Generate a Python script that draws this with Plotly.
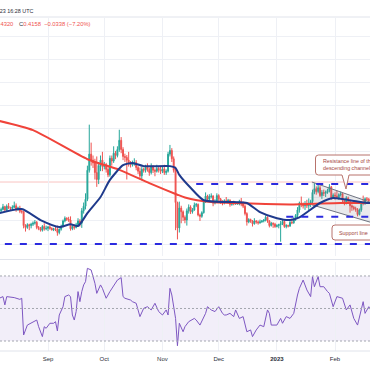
import plotly.graph_objects as go
import pandas as pd

# ---------------- data ----------------
dates = pd.date_range("2022-08-06", "2023-02-19", freq="D")
first_open = 0.370
closes = [
    0.372, 0.375, 0.381, 0.374, 0.382, 0.379, 0.377, 0.380, 0.383, 0.376, 0.378, 0.371, 0.370, 0.340, 0.336, 0.342, 0.340, 0.343, 0.345, 0.347, 0.336, 0.334, 0.330, 0.338, 0.333, 0.334,
    0.337, 0.334, 0.331, 0.333, 0.332, 0.325, 0.332, 0.338, 0.350, 0.356, 0.354, 0.352, 0.333, 0.338, 0.336, 0.342, 0.350, 0.345, 0.372, 0.382, 0.397, 0.460, 0.495, 0.482, 0.476, 0.455, 0.440, 0.470, 0.482, 0.468,
    0.472, 0.462, 0.450, 0.486, 0.480, 0.497, 0.492, 0.505, 0.525, 0.505, 0.490, 0.488, 0.482, 0.475, 0.472, 0.476, 0.477, 0.466, 0.458, 0.448, 0.462, 0.460, 0.468, 0.462, 0.455, 0.467, 0.460, 0.458, 0.464, 0.461, 0.458,
    0.463, 0.455, 0.458, 0.495, 0.503, 0.485, 0.460, 0.390, 0.335, 0.378, 0.370, 0.358, 0.352, 0.372, 0.380, 0.370, 0.374, 0.384, 0.386, 0.363, 0.360, 0.368, 0.392, 0.404, 0.397, 0.403, 0.404, 0.389, 0.392, 0.405,
    0.398, 0.392, 0.389, 0.394, 0.392, 0.395, 0.386, 0.390, 0.387, 0.388, 0.389, 0.393, 0.387, 0.382, 0.366, 0.348, 0.353, 0.350, 0.344, 0.350, 0.348, 0.346, 0.348, 0.350, 0.352, 0.358, 0.350, 0.340, 0.345, 0.343, 0.338,
    0.340, 0.342, 0.344, 0.349, 0.338, 0.340, 0.339, 0.347, 0.346, 0.355, 0.362, 0.374, 0.389, 0.385, 0.383, 0.388, 0.383, 0.386, 0.392, 0.412, 0.420, 0.414, 0.422, 0.405, 0.412, 0.410, 0.412, 0.416, 0.424, 0.401, 0.406,
    0.404, 0.400, 0.407, 0.409, 0.395, 0.389, 0.400, 0.392, 0.383, 0.380, 0.377, 0.375, 0.364, 0.374, 0.390, 0.389, 0.398, 0.397, 0.394,
]
highs = [
    0.378, 0.379, 0.387, 0.383, 0.386, 0.389, 0.381, 0.384, 0.392, 0.388, 0.381, 0.383, 0.375, 0.372, 0.343, 0.345, 0.344, 0.346, 0.349, 0.352, 0.350, 0.339, 0.337, 0.341, 0.345, 0.340,
    0.339, 0.341, 0.336, 0.335, 0.337, 0.340, 0.334, 0.342, 0.353, 0.360, 0.358, 0.359, 0.360, 0.342, 0.343, 0.346, 0.356, 0.354, 0.378, 0.390, 0.410, 0.470, 0.559, 0.520, 0.492, 0.485, 0.490, 0.478, 0.492, 0.500,
    0.478, 0.476, 0.467, 0.492, 0.492, 0.512, 0.502, 0.512, 0.548, 0.532, 0.510, 0.496, 0.493, 0.500, 0.480, 0.481, 0.486, 0.482, 0.470, 0.466, 0.467, 0.466, 0.472, 0.475, 0.466, 0.475, 0.471, 0.464, 0.472, 0.467, 0.468,
    0.468, 0.472, 0.462, 0.500, 0.515, 0.508, 0.490, 0.468, 0.392, 0.392, 0.383, 0.373, 0.362, 0.377, 0.386, 0.384, 0.378, 0.390, 0.389, 0.388, 0.366, 0.371, 0.396, 0.412, 0.407, 0.408, 0.410, 0.406, 0.397, 0.410,
    0.408, 0.400, 0.395, 0.397, 0.402, 0.398, 0.397, 0.393, 0.394, 0.391, 0.392, 0.396, 0.400, 0.392, 0.385, 0.369, 0.356, 0.355, 0.352, 0.356, 0.352, 0.351, 0.353, 0.352, 0.354, 0.362, 0.360, 0.352, 0.348, 0.347, 0.346,
    0.343, 0.344, 0.350, 0.354, 0.351, 0.343, 0.342, 0.350, 0.355, 0.358, 0.365, 0.380, 0.392, 0.403, 0.390, 0.393, 0.396, 0.399, 0.396, 0.418, 0.432, 0.425, 0.428, 0.427, 0.417, 0.418, 0.416, 0.420, 0.430, 0.426, 0.410,
    0.412, 0.416, 0.410, 0.414, 0.411, 0.398, 0.404, 0.403, 0.395, 0.386, 0.383, 0.381, 0.378, 0.377, 0.393, 0.405, 0.401, 0.402, 0.400,
]
lows = [
    0.366, 0.369, 0.373, 0.370, 0.371, 0.376, 0.372, 0.375, 0.378, 0.370, 0.372, 0.367, 0.366, 0.334, 0.327, 0.333, 0.330, 0.334, 0.339, 0.342, 0.332, 0.330, 0.327, 0.327, 0.329, 0.330,
    0.328, 0.331, 0.329, 0.328, 0.328, 0.318, 0.321, 0.329, 0.336, 0.347, 0.350, 0.348, 0.329, 0.330, 0.331, 0.334, 0.340, 0.338, 0.335, 0.366, 0.375, 0.393, 0.455, 0.470, 0.465, 0.440, 0.424, 0.430, 0.458, 0.458,
    0.462, 0.455, 0.445, 0.446, 0.470, 0.476, 0.484, 0.488, 0.500, 0.497, 0.482, 0.478, 0.440, 0.468, 0.466, 0.468, 0.470, 0.460, 0.452, 0.440, 0.438, 0.455, 0.455, 0.457, 0.448, 0.451, 0.454, 0.447, 0.455, 0.455, 0.452,
    0.454, 0.450, 0.450, 0.455, 0.490, 0.478, 0.455, 0.330, 0.310, 0.325, 0.345, 0.350, 0.345, 0.340, 0.366, 0.365, 0.366, 0.372, 0.380, 0.360, 0.350, 0.357, 0.366, 0.389, 0.392, 0.395, 0.399, 0.382, 0.386, 0.390,
    0.393, 0.387, 0.384, 0.386, 0.389, 0.388, 0.381, 0.383, 0.384, 0.385, 0.385, 0.384, 0.382, 0.378, 0.362, 0.340, 0.345, 0.346, 0.338, 0.342, 0.344, 0.342, 0.344, 0.346, 0.347, 0.349, 0.346, 0.336, 0.338, 0.335, 0.335,
    0.336, 0.334, 0.305, 0.341, 0.335, 0.334, 0.336, 0.337, 0.343, 0.344, 0.350, 0.357, 0.368, 0.380, 0.377, 0.374, 0.378, 0.372, 0.380, 0.389, 0.408, 0.407, 0.410, 0.402, 0.398, 0.404, 0.402, 0.409, 0.412, 0.396, 0.398,
    0.396, 0.398, 0.396, 0.403, 0.391, 0.384, 0.386, 0.388, 0.368, 0.372, 0.373, 0.370, 0.360, 0.362, 0.370, 0.384, 0.385, 0.393, 0.390,
]

sma_dates = ["2022-08-06", "2022-08-24", "2022-09-22", "2022-10-09", "2022-10-25", "2022-11-09",
             "2022-11-13", "2022-11-27", "2022-12-18", "2023-01-10", "2023-02-04", "2023-02-21"]
sma200 = [0.567, 0.547, 0.484, 0.461, 0.432, 0.407, 0.401, 0.391, 0.388, 0.386, 0.389, 0.389]

ema_dates = ["2022-08-06", "2022-08-18", "2022-08-28", "2022-09-07", "2022-09-13", "2022-09-17", "2022-09-22",
             "2022-09-29", "2022-10-04", "2022-10-11", "2022-10-16", "2022-10-22", "2022-11-05", "2022-11-08",
             "2022-11-10", "2022-11-16", "2022-11-23", "2022-12-09", "2022-12-16", "2022-12-23", "2023-01-01",
             "2023-01-08", "2023-01-13", "2023-01-24", "2023-01-31", "2023-02-09", "2023-02-18", "2023-02-21"]
ema20 = [0.367, 0.376, 0.352, 0.337, 0.343, 0.339, 0.367, 0.402, 0.439, 0.471, 0.476, 0.469, 0.469, 0.465,
         0.450, 0.422, 0.395, 0.391, 0.389, 0.369, 0.356, 0.352, 0.358, 0.389, 0.400, 0.395, 0.389, 0.389]

rsi_days = {
    "2022-08": [6, 8, 9, 10, 14, 17, 18, 19, 21, 24, 26, 27, 29, 30, 31],
    "2022-09": [2, 4, 5, 6, 7, 9, 10, 12, 13, 14, 15, 16, 17, 18, 19, 20, 21, 22, 24, 26, 27, 29, 30],
    "2022-10": [2, 4, 8, 10, 11, 12, 15, 16, 18, 20, 22, 24, 26, 28, 30],
    "2022-11": [1, 3, 4, 5, 6, 8, 9, 10, 12, 13, 15, 17, 18, 19, 21, 24, 25, 27, 29],
    "2022-12": [1, 3, 4, 5, 7, 9, 10, 11, 12, 14, 16, 18, 19, 21, 23, 25, 27, 28, 29],
    "2023-01": [1, 3, 4, 6, 8, 10, 12, 13, 15, 17, 19, 20, 21, 23, 24, 26, 28, 29, 31],
    "2023-02": [2, 5, 7, 9, 11, 13, 16, 17, 19, 20],
}
rsi_values = [
    56.3, 57.3, 52.2, 57.3, 56.7, 55.6, 56.3, 33.7, 39.8, 41.9, 42.9, 38.8, 32.7, 38.8, 37.8,
    40.9, 40.9, 41.9, 36.2, 46.0, 51.1, 57.3, 58.3, 57.3, 46.0, 42.9, 48.1, 60.4, 54.2, 60.4, 64.5, 66.5, 74.7, 73.7, 65.5, 59.3, 64.5, 62.4,
    56.3, 60.4, 67.5, 69.0, 57.3, 56.3, 55.2, 54.2, 53.2, 45.0, 50.1, 51.1, 49.1, 53.2, 48.1,
    46.0, 49.1, 46.0, 62.4, 58.3, 43.9, 27.1, 40.9, 35.7, 38.8, 41.9, 42.9, 43.9, 42.9, 39.8, 47.0, 51.1, 49.1, 48.1,
    51.1, 47.0, 46.0, 46.0, 47.0, 45.0, 49.1, 46.0, 43.9, 45.0, 35.7, 36.8, 32.7, 36.8, 39.8, 38.8, 49.1, 47.0, 39.8,
    39.8, 43.9, 40.9, 45.0, 43.9, 47.0, 58.3, 62.4, 67.5, 61.4, 57.3, 69.6, 63.4, 69.6, 63.4, 63.4, 60.4, 59.3, 51.1,
    57.3, 56.3, 49.1, 52.2, 43.9, 39.8, 54.2, 47.0, 51.1, 49.1,
]
rsi_upper, rsi_mid, rsi_lower = 70, 50, 30

level_prices = [0.430, 0.359, 0.300]
level_starts = ["2022-11-19", "2023-01-06", "2022-08-01"]
level_end = "2023-02-25"

channel_dates = ["2023-01-19 16:00", "2023-02-22"]
channel_upper = [0.4345, 0.3875]
channel_lower = [0.3850, 0.3447]

price_line = 0.4345

month_ticks = ["2022-09-01", "2022-10-01", "2022-11-01", "2022-12-01", "2023-01-01", "2023-02-01"]
month_labels = ["Sep", "Oct", "Nov", "Dec", "<b>2023</b>", "Feb"]

header_time = "Feb 20, 2023 16:28 UTC"
low_text = "O0.4496 H0.4520 L0.4320"
close_text = "0.4158"
change_text = "−0.0338 (−7.20%)"
callout_1 = "Resistance line of the<br>descending channel"
callout_2 = "Support line"

# ---------------- derived ----------------
opens = [first_open] + closes[:-1]
highs_c = [max(h, o, c) for h, o, c in zip(highs, opens, closes)]
lows_c = [min(l, o, c) for l, o, c in zip(lows, opens, closes)]
rsi_dates = [f"{ym}-{d:02d}" for ym, days in rsi_days.items() for d in days]
assert len(rsi_dates) == len(rsi_values)
assert len(closes) == len(dates) == len(highs) == len(lows)

W = H = 370
FONT = "Liberation Sans, Arial, sans-serif"
RED = "#ef5350"
GREEN = "#26a69a"


def px(x):
    return x / W


def py(y):
    return 1 - y / H


fig = go.Figure()

fig.add_trace(go.Candlestick(
    x=dates, open=opens, high=highs_c, low=lows_c, close=closes,
    increasing=dict(line=dict(color=GREEN, width=1), fillcolor=GREEN),
    decreasing=dict(line=dict(color=RED, width=1), fillcolor=RED),
    whiskerwidth=0, showlegend=False, hoverinfo="skip", xaxis="x", yaxis="y"))

# channel
fig.add_trace(go.Scatter(x=channel_dates, y=channel_upper, mode="lines",
                         line=dict(color="#6f7380", width=1), showlegend=False, hoverinfo="skip"))
fig.add_trace(go.Scatter(x=channel_dates, y=channel_lower, mode="lines", fill="tonexty",
                         fillcolor="rgba(120,123,134,0.16)",
                         line=dict(color="#6f7380", width=1), showlegend=False, hoverinfo="skip"))

# moving averages
fig.add_trace(go.Scatter(x=sma_dates, y=sma200, mode="lines", line=dict(color="#f0433a", width=2, shape="spline", smoothing=0.6),
                         showlegend=False, hoverinfo="skip"))
fig.add_trace(go.Scatter(x=ema_dates, y=ema20, mode="lines", line=dict(color="#1f3a8c", width=2, shape="spline", smoothing=0.6),
                         showlegend=False, hoverinfo="skip"))

# horizontal levels
for p, s in zip(level_prices, level_starts):
    fig.add_trace(go.Scatter(x=[s, level_end], y=[p, p], mode="lines",
                             line=dict(color="#2b2bdf", width=2, dash="7px,8px"),
                             showlegend=False, hoverinfo="skip"))

# RSI
fig.add_trace(go.Scatter(x=rsi_dates, y=rsi_values, mode="lines", line=dict(color="#7e57c2", width=1),
                         xaxis="x2", yaxis="y2", showlegend=False, hoverinfo="skip"))

shapes = []
for yy in (17, 259.5, 351):
    shapes.append(dict(type="line", xref="paper", yref="paper", x0=0, x1=1, y0=py(yy), y1=py(yy),
                       line=dict(color="#e0e3eb", width=1)))
shapes.append(dict(type="line", xref="paper", yref="y", x0=0, x1=1, y0=price_line, y1=price_line,
                   line=dict(color="rgba(239,83,80,0.35)", width=1), layer="below"))
shapes.append(dict(type="rect", xref="paper", yref="y2", x0=0, x1=1, y0=rsi_lower, y1=rsi_upper,
                   fillcolor="rgba(126,87,194,0.10)", line=dict(width=0), layer="below"))
for lv in (rsi_upper, rsi_mid, rsi_lower):
    shapes.append(dict(type="line", xref="paper", yref="y2", x0=0, x1=1, y0=lv, y1=lv,
                       line=dict(color="#a3a6af", width=1, dash="2px,2px")))


def box_path(l, t, r, b, rad=3, tail=None):
    pts = [f"M{px(l + rad)},{py(t)}", f"L{px(r)},{py(t)}", f"L{px(r)},{py(b)}"]
    if tail:
        tr, tip, tl = tail
        pts += [f"L{px(tr)},{py(b)}", f"L{px(tip[0])},{py(tip[1])}", f"L{px(tl)},{py(b)}"]
    pts += [f"L{px(l + rad)},{py(b)}", f"Q{px(l)},{py(b)} {px(l)},{py(b - rad)}",
            f"L{px(l)},{py(t + rad)}", f"Q{px(l)},{py(t)} {px(l + rad)},{py(t)}", "Z"]
    return " ".join(pts)


CALL_LINE = "#b8736c"
CALL_TEXT = "#a5463e"
shapes.append(dict(type="path", xref="paper", yref="paper",
                   path=box_path(315.5, 155, 390, 175, tail=(349, (346, 189), 342)),
                   fillcolor="rgba(255,255,255,0.95)", line=dict(color=CALL_LINE, width=1)))
shapes.append(dict(type="path", xref="paper", yref="paper",
                   path=box_path(332, 225, 390, 240),
                   fillcolor="rgba(255,255,255,0.95)", line=dict(color=CALL_LINE, width=1)))

annotations = [
    dict(xref="paper", yref="paper", x=px(35), y=py(11), xanchor="right", yanchor="middle",
         text=header_time, showarrow=False, font=dict(family=FONT, size=5.4, color="#2a2e39")),
    dict(xref="paper", yref="paper", x=px(14.5), y=py(24.5), xanchor="right", yanchor="middle",
         text=low_text, showarrow=False, font=dict(family=FONT, size=5.8, color=RED)),
    dict(xref="paper", yref="paper", x=px(16.5), y=py(24.5), xanchor="left", yanchor="middle",
         text=f"<span style='color:#2a2e39'>C</span>{close_text}  {change_text}", showarrow=False,
         font=dict(family=FONT, size=5.8, color=RED)),
    dict(xref="paper", yref="paper", x=px(320.5), y=py(164.5), xanchor="left", yanchor="middle", align="left",
         text=callout_1, showarrow=False, font=dict(family=FONT, size=5.3, color=CALL_TEXT)),
    dict(xref="paper", yref="paper", x=px(337), y=py(232.5), xanchor="left", yanchor="middle",
         text=callout_2, showarrow=False, font=dict(family=FONT, size=5.4, color=CALL_TEXT)),
]

x_range = ["2022-08-06 09:50", "2023-02-19 15:20"]
GRID = "#eef0f5"

fig.update_layout(
    width=W, height=H, margin=dict(l=0, r=0, t=0, b=0),
    paper_bgcolor="white", plot_bgcolor="white",
    showlegend=False,
    xaxis=dict(domain=[0, 1], anchor="y", type="date", range=x_range, tickvals=month_ticks,
               showticklabels=False, showgrid=True, gridcolor=GRID, gridwidth=1, zeroline=False,
               rangeslider=dict(visible=False), showline=False, ticks=""),
    yaxis=dict(domain=[py(256), py(18)], range=[0.274, 0.7904], tick0=0.30, dtick=0.05,
               showticklabels=False, showgrid=True, gridcolor=GRID, zeroline=False, ticks=""),
    xaxis2=dict(domain=[0, 1], anchor="y2", type="date", range=x_range, matches="x",
                tickvals=month_ticks, ticktext=month_labels, showgrid=True, gridcolor=GRID,
                zeroline=False, ticks="", showline=False, ticklabelstandoff=3,
                tickfont=dict(family=FONT, size=6, color="#2a2e39")),
    yaxis2=dict(domain=[py(351), py(262)], range=[23.85, 78.6], showticklabels=False,
                showgrid=False, zeroline=False, ticks=""),
    shapes=shapes, annotations=annotations,
)

fig.write_html("out.html", config={"displayModeBar": False},
               post_script="document.body.style.margin='0';document.body.style.overflow='hidden';")
